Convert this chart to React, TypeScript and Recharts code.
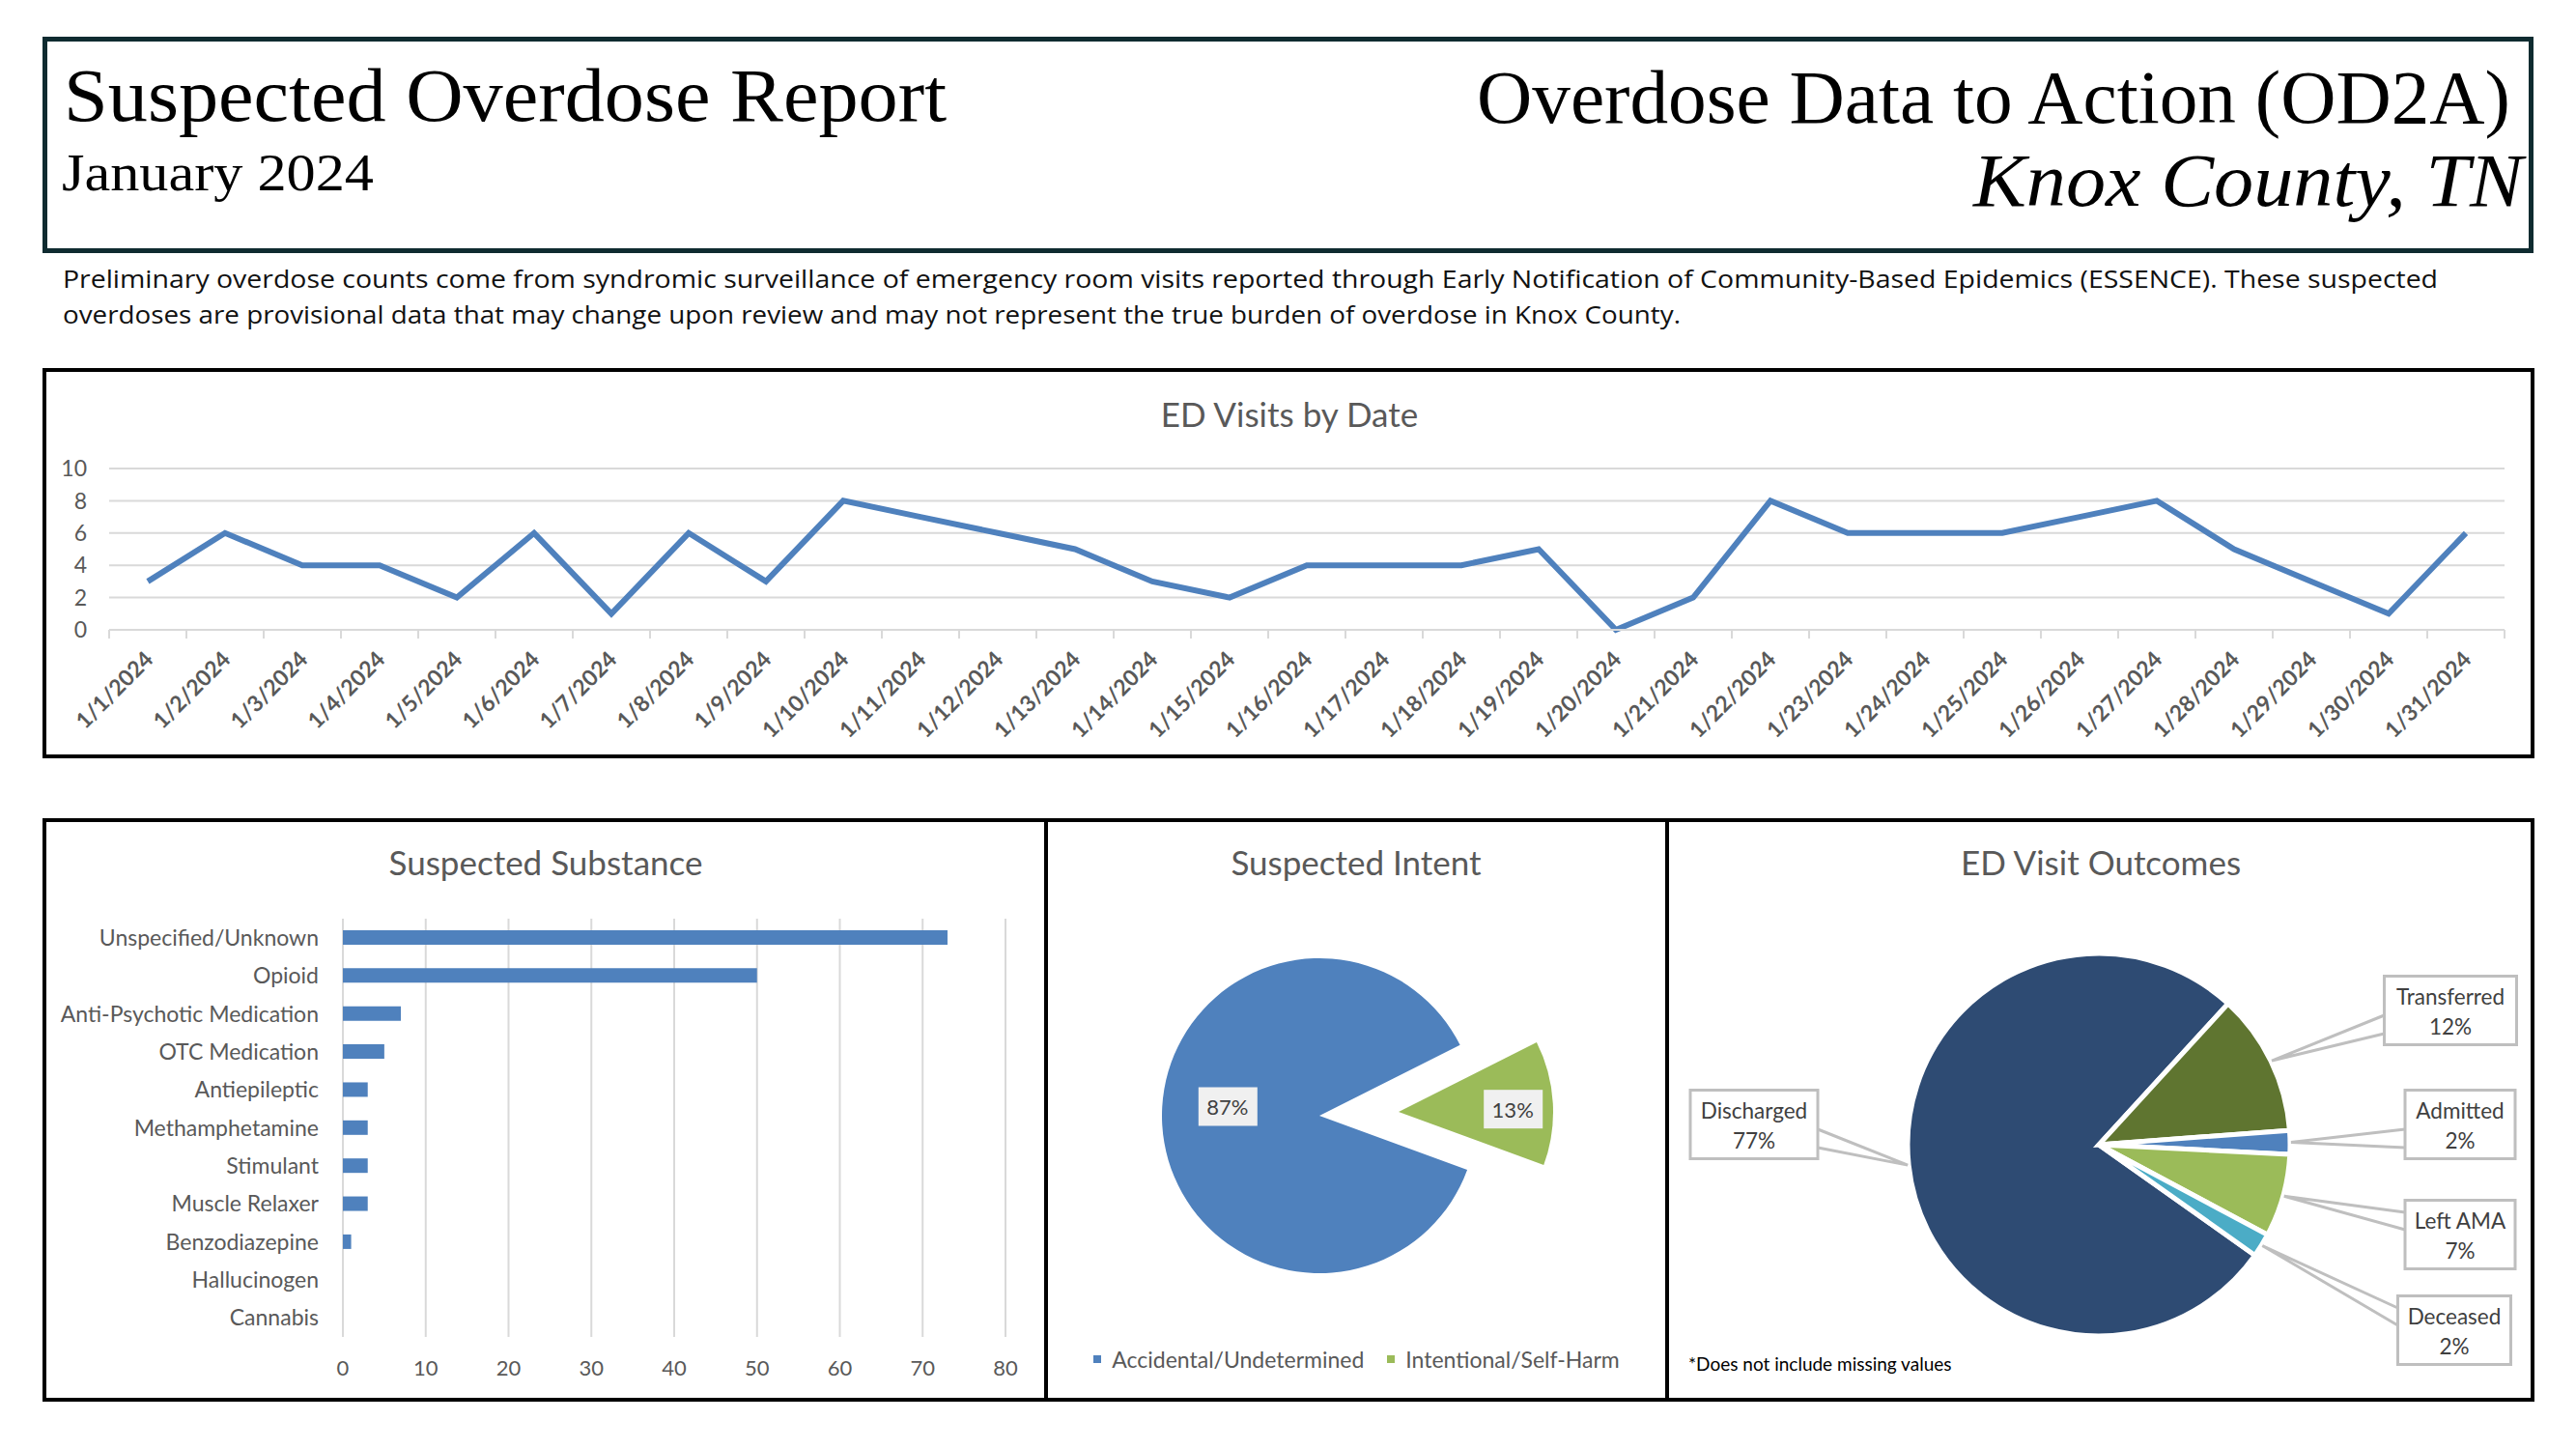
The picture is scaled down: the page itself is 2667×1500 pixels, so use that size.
import React from 'react'
import { LineChart, Line, XAxis, YAxis, CartesianGrid, BarChart, Bar, PieChart, Pie, Cell, Legend } from 'recharts'

// ED visits by date
const dates = [
  '1/1/2024', '1/2/2024', '1/3/2024', '1/4/2024', '1/5/2024', '1/6/2024', '1/7/2024', '1/8/2024',
  '1/9/2024', '1/10/2024', '1/11/2024', '1/12/2024', '1/13/2024', '1/14/2024', '1/15/2024', '1/16/2024',
  '1/17/2024', '1/18/2024', '1/19/2024', '1/20/2024', '1/21/2024', '1/22/2024', '1/23/2024', '1/24/2024',
  '1/25/2024', '1/26/2024', '1/27/2024', '1/28/2024', '1/29/2024', '1/30/2024', '1/31/2024',
]
const visits = [3, 6, 4, 4, 2, 6, 1, 6, 3, 8, 7, 6, 5, 3, 2, 4, 4, 4, 5, 0, 2, 8, 6, 6, 6, 7, 8, 5, 3, 1, 6]
const visitTicks = [0, 2, 4, 6, 8, 10]

// suspected substance
const substances = [
  'Unspecified/Unknown', 'Opioid', 'Anti-Psychotic Medication', 'OTC Medication', 'Antiepileptic',
  'Methamphetamine', 'Stimulant', 'Muscle Relaxer', 'Benzodiazepine', 'Hallucinogen', 'Cannabis',
]
const substanceCounts = [73, 50, 7, 5, 3, 3, 3, 3, 1, 0, 0]
const substanceTicks = [0, 10, 20, 30, 40, 50, 60, 70, 80]

// suspected intent
const intentNames = ['Accidental/Undetermined', 'Intentional/Self-Harm']
const intentShares = [87, 13]

// ED visit outcomes
const outcomeNames = ['Discharged', 'Transferred', 'Admitted', 'Left AMA', 'Deceased']
const outcomeShares = [77, 12, 2, 7, 2]

const BLUE = '#4f81bd'
const GREEN = '#9bbb59'
const GRID = '#d9d9d9'
const AXIS_TEXT = '#595959'
const FONT = 'Lato, "Open Sans", sans-serif'
const SERIF = '"Liberation Serif", "DejaVu Serif", serif'

const intentColors = [BLUE, GREEN]
const outcomeColors = ['#2e4b73', '#5f7530', BLUE, GREEN, '#4bacc6']

// callout boxes for the outcomes pie, relative to the pie centre
const callouts = [
  { dx: -357, dy: -21, w: 132 },
  { dx: 364, dy: -139, w: 137 },
  { dx: 374, dy: -21, w: 114 },
  { dx: 374, dy: 93, w: 114 },
  { dx: 368, dy: 192, w: 117 },
]

const visitData = dates.map((d, i) => ({ date: d, visits: visits[i] }))
const substanceData = substances.map((s, i) => ({ name: s, count: substanceCounts[i] }))
const intentData = intentNames.map((n, i) => ({ name: n, value: intentShares[i] }))
const outcomeData = outcomeNames.map((n, i) => ({ name: n, value: outcomeShares[i] }))

const RAD = Math.PI / 180
const BAND = 80

function DateTick(props: any) {
  const { x, y, payload, index } = props
  return (
    <g>
      <line x1={x - BAND / 2} x2={x - BAND / 2} y1={y} y2={y + 9} stroke={GRID} strokeWidth={2} />
      {index === dates.length - 1 && (
        <line x1={x + BAND / 2} x2={x + BAND / 2} y1={y} y2={y + 9} stroke={GRID} strokeWidth={2} />
      )}
      <text
        transform={`translate(${x + 7},${y + 32}) rotate(-45)`}
        textAnchor="end"
        fontFamily={FONT}
        fontWeight={700}
        fontSize={23}
        fill={AXIS_TEXT}
      >
        {payload.value}
      </text>
    </g>
  )
}

function intentLabel(show: number, k: number, dy: number) {
  return (p: any) => {
    if (p.index !== show) return null
    const lx = p.cx + p.outerRadius * k * Math.cos(-p.midAngle * RAD)
    const ly = p.cy + p.outerRadius * k * Math.sin(-p.midAngle * RAD) + dy
    return (
      <g>
        <rect x={lx - 30} y={ly - 20} width={61} height={40} fill="#f0f0f0" />
        <text x={lx} y={ly} textAnchor="middle" dominantBaseline="central" fontFamily={FONT} fontSize={22} fill="#404040">
          {Math.round(p.percent * 100)}%
        </text>
      </g>
    )
  }
}

function outcomeLabel(p: any) {
  const lay = callouts[p.index]
  const ex = p.cx + (p.outerRadius + 1) * Math.cos(-p.midAngle * RAD)
  const ey = p.cy + (p.outerRadius + 1) * Math.sin(-p.midAngle * RAD)
  const bx = p.cx + lay.dx
  const by = p.cy + lay.dy
  const left = bx - lay.w / 2
  const right = bx + lay.w / 2
  const edgeX = ex < bx ? left : right
  const [y1, y2] = ey > by ? [by + 5, by + 24] : [by - 23, by - 5]
  return (
    <g>
      <polyline points={`${edgeX},${y1} ${ex},${ey} ${edgeX},${y2}`} fill="none" stroke="#bfbfbf" strokeWidth={3} />
      <rect x={left} y={by - 35.5} width={lay.w} height={71} fill="#fff" stroke="#bfbfbf" strokeWidth={3} />
      <text x={bx} y={by - 15} textAnchor="middle" dominantBaseline="central" fontFamily={FONT} fontSize={22.5} fill="#404040">
        {outcomeNames[p.index]}
      </text>
      <text x={bx} y={by + 16} textAnchor="middle" dominantBaseline="central" fontFamily={FONT} fontSize={22.5} fill="#404040">
        {Math.round(p.percent * 100)}%
      </text>
    </g>
  )
}

function IntentLegend() {
  return (
    <div style={{ display: 'flex', justifyContent: 'center', alignItems: 'center', gap: 24, fontFamily: FONT, fontSize: 23, color: AXIS_TEXT, height: 30 }}>
      {intentNames.map((n, i) => (
        <div key={n} style={{ display: 'flex', alignItems: 'center' }}>
          <span style={{ width: 8, height: 8, background: intentColors[i], marginRight: 11, display: 'inline-block' }} />
          <span>{n}</span>
        </div>
      ))}
    </div>
  )
}

export default function App() {
  const titleStyle = { fontFamily: FONT, fontSize: 35, fill: AXIS_TEXT } as const
  return (
    <div style={{ position: 'absolute', left: 0, top: 0, width: 2667, height: 1500, background: '#fff', overflow: 'hidden' }}>
      <svg width={2667} height={1500} style={{ position: 'absolute', left: 0, top: 0 }}>
        {/* header */}
        <rect x={46.5} y={40.5} width={2574} height={219} fill="none" stroke="#0f2b30" strokeWidth={5} />
        <text x={66} y={125} fontFamily={SERIF} fontSize={78} fill="#000" textLength={914} lengthAdjust="spacingAndGlyphs">
          Suspected Overdose Report
        </text>
        <text x={64} y={197} fontFamily={SERIF} fontSize={54} fill="#000" textLength={323} lengthAdjust="spacingAndGlyphs">
          January 2024
        </text>
        <text x={2599} y={127} textAnchor="end" fontFamily={SERIF} fontSize={78} fill="#000" textLength={1070} lengthAdjust="spacingAndGlyphs">
          Overdose Data to Action (OD2A)
        </text>
        <text x={2612} y={213} textAnchor="end" fontFamily={SERIF} fontStyle="italic" fontSize={78} fill="#000" textLength={569} lengthAdjust="spacingAndGlyphs">
          Knox County, TN
        </text>
        <text x={65} y={298} fontFamily='"Open Sans", sans-serif' fontSize={26} fill="#111" textLength={2459} lengthAdjust="spacingAndGlyphs">
          Preliminary overdose counts come from syndromic surveillance of emergency room visits reported through Early Notification of Community-Based Epidemics (ESSENCE). These suspected
        </text>
        <text x={65} y={335} fontFamily='"Open Sans", sans-serif' fontSize={26} fill="#111" textLength={1675} lengthAdjust="spacingAndGlyphs">
          overdoses are provisional data that may change upon review and may not represent the true burden of overdose in Knox County.
        </text>

        {/* chart frames */}
        <rect x={46} y={383} width={2576} height={400} fill="none" stroke="#000" strokeWidth={4} />
        <rect x={46} y={849} width={2576} height={600} fill="none" stroke="#000" strokeWidth={4} />
        <line x1={1083} x2={1083} y1={849} y2={1449} stroke="#000" strokeWidth={4} />
        <line x1={1726} x2={1726} y1={849} y2={1449} stroke="#000" strokeWidth={4} />

        <text x={1335} y={442} textAnchor="middle" {...titleStyle}>ED Visits by Date</text>
        <text x={565} y={906} textAnchor="middle" {...titleStyle}>Suspected Substance</text>
        <text x={1404} y={906} textAnchor="middle" {...titleStyle}>Suspected Intent</text>
        <text x={2175} y={906} textAnchor="middle" {...titleStyle}>ED Visit Outcomes</text>
        <text x={1748} y={1419} fontFamily={FONT} fontSize={19} fill="#000">*Does not include missing values</text>
      </svg>

      {/* ED visits by date */}
      <div style={{ position: 'absolute', left: 48, top: 385 }}>
        <LineChart width={2572} height={396} data={visitData} margin={{ top: 100, right: 27, left: 0, bottom: 0 }}>
          <CartesianGrid vertical={false} stroke={GRID} strokeWidth={2} />
          <XAxis
            dataKey="date"
            scale="band"
            interval={0}
            height={129}
            tickLine={false}
            tickSize={0}
            tickMargin={0}
            axisLine={{ stroke: GRID, strokeWidth: 2 }}
            tick={(props: any) => <DateTick {...props} />}
          />
          <YAxis
            width={65}
            domain={[0, 10]}
            ticks={visitTicks}
            axisLine={false}
            tickLine={false}
            tickSize={0}
            tickMargin={23}
            tick={{ fontFamily: FONT, fontSize: 23, fill: AXIS_TEXT }}
          />
          <Line type="linear" dataKey="visits" stroke={BLUE} strokeWidth={6} dot={false} isAnimationActive={false} />
        </LineChart>
      </div>

      {/* suspected substance */}
      <div style={{ position: 'absolute', left: 48, top: 851 }}>
        <BarChart width={1033} height={596} data={substanceData} layout="vertical" margin={{ top: 100, right: 40, left: 0, bottom: 0 }}>
          <CartesianGrid horizontal={false} stroke={GRID} strokeWidth={2} />
          <XAxis
            type="number"
            domain={[0, 80]}
            ticks={substanceTicks}
            height={63}
            axisLine={false}
            tickLine={false}
            tickSize={0}
            tickMargin={24}
            tick={{ fontFamily: FONT, fontSize: 22, fill: AXIS_TEXT }}
          />
          <YAxis
            type="category"
            dataKey="name"
            width={307}
            interval={0}
            axisLine={false}
            tickLine={false}
            tickSize={0}
            tickMargin={25}
            tick={{ fontFamily: FONT, fontSize: 23, fill: AXIS_TEXT }}
          />
          <Bar dataKey="count" fill={BLUE} barSize={15} isAnimationActive={false} />
        </BarChart>
      </div>

      {/* suspected intent */}
      <div style={{ position: 'absolute', left: 1085, top: 851 }}>
        <PieChart width={639} height={596} margin={{ top: 0, right: 0, left: 0, bottom: 0 }}>
          <Pie
            data={intentData}
            dataKey="value"
            nameKey="name"
            cx={281}
            cy={304}
            outerRadius={163}
            startAngle={26.7}
            endAngle={386.7}
            stroke="none"
            labelLine={false}
            label={intentLabel(0, 0.585, -15)}
            isAnimationActive={false}
          >
            {intentData.map((d, i) => (
              <Cell key={d.name} fill={i === 0 ? intentColors[0] : 'transparent'} />
            ))}
          </Pie>
          <Pie
            data={intentData}
            dataKey="value"
            nameKey="name"
            cx={363}
            cy={300}
            outerRadius={160}
            startAngle={26.7}
            endAngle={386.7}
            stroke="none"
            legendType="none"
            labelLine={false}
            label={intentLabel(1, 0.74, 4)}
            isAnimationActive={false}
          >
            {intentData.map((d, i) => (
              <Cell key={d.name} fill={i === 1 ? intentColors[1] : 'transparent'} />
            ))}
          </Pie>
          <Legend content={() => <IntentLegend />} wrapperStyle={{ position: 'absolute', left: 0, top: 541, width: 639, height: 30 }} />
        </PieChart>
      </div>

      {/* ED visit outcomes */}
      <div style={{ position: 'absolute', left: 1728, top: 851 }}>
        <PieChart width={894} height={596} margin={{ top: 0, right: 0, left: 0, bottom: 0 }}>
          <Pie
            data={outcomeData}
            dataKey="value"
            nameKey="name"
            cx={445}
            cy={334}
            outerRadius={198}
            startAngle={-35.3}
            endAngle={-395.3}
            stroke="#fff"
            strokeWidth={5}
            labelLine={false}
            label={outcomeLabel}
            isAnimationActive={false}
          >
            {outcomeData.map((d, i) => (
              <Cell key={d.name} fill={outcomeColors[i]} />
            ))}
          </Pie>
        </PieChart>
      </div>
    </div>
  )
}
